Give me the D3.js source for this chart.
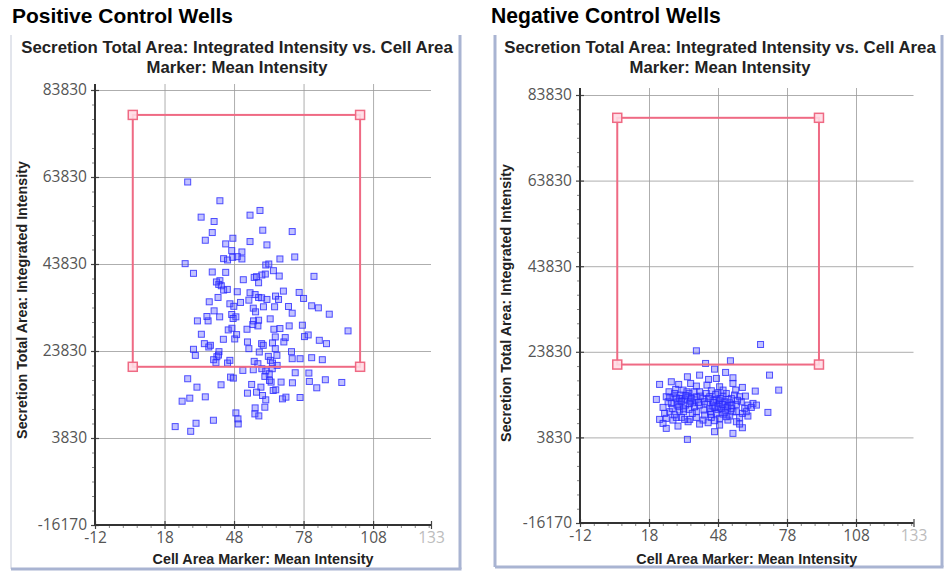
<!DOCTYPE html>
<html>
<head>
<meta charset="utf-8">
<script src="https://cdn.jsdelivr.net/npm/d3@7"></script>
<style>
  html, body { margin: 0; padding: 0; background: #fff; }
  svg { display: block; }
</style>
</head>
<body>
<svg id="chart" width="944" height="573"></svg>
<script>
// Axis tick values shared by both plots
const xTicks = [-12, 18, 48, 78, 108, 133];
const yTicks = [-16170, 3830, 23830, 43830, 63830, 83830];

// Gate rectangles: [xMin, xMax, yMin, yMax]
const positiveGate = [4.3, 102.4, 20200, 78100];
const negativeGate = [4.2, 91.9, 20850, 78500];

// Positive control wells: [cell area marker mean intensity, secretion integrated intensity]
const positivePoints = [
  [28.0,62680],[41.9,58370],[54.9,55060],[59.2,56140],[33.8,54600],[39.4,53600],[60.4,51600],[73.1,51290],
  [38.6,51060],[35.6,49290],[47.5,49750],[44.4,48450],[54.9,48990],[62.2,48220],[47.0,46910],[51.4,46600],
  [43.5,45060],[45.2,44750],[47.4,45370],[49.4,45520],[51.4,44990],[67.8,44990],[74.2,45450],[26.9,43910],
  [61.7,43600],[63.0,43830],[30.5,41680],[38.6,41990],[44.4,41910],[65.0,42290],[61.5,41520],[67.5,41060],
  [82.5,40990],[41.9,39990],[41.4,39140],[42.5,38830],[52.0,40220],[56.7,40750],[58.6,39520],[57.7,40910],
  [43.5,37830],[45.1,37990],[49.4,37450],[69.3,37600],[76.1,37290],[78.0,35910],[54.9,37220],[41.1,36140],
  [58.6,36140],[59.9,36060],[62.2,35680],[65.9,36450],[67.2,35680],[37.3,35140],[54.4,35520],[46.2,34680],
  [50.8,34990],[56.3,33680],[60.7,33990],[65.5,33990],[71.5,34060],[73.1,32520],[81.5,34220],[84.4,33750],
  [89.1,32290],[39.4,33060],[41.8,31680],[47.0,32220],[48.8,31680],[57.3,32830],[63.6,31220],[58.6,30910],
  [56.4,30750],[32.2,30750],[36.3,31760],[36.8,30750],[56.1,29910],[58.3,29600],[45.5,28680],[47.1,29060],
  [49.1,27600],[53.6,28830],[65.2,28830],[67.8,28990],[71.8,29600],[77.5,29760],[33.9,27680],[43.4,26520],
  [48.3,26600],[65.8,27060],[70.1,26910],[78.4,27140],[80.0,27520],[97.2,28450],[35.2,25520],[37.8,25140],
  [37.1,24750],[53.8,25910],[59.9,25520],[64.6,25680],[69.5,25910],[84.8,26290],[87.9,25520],[30.5,24220],
  [31.3,22830],[41.5,23680],[40.6,22520],[54.4,24370],[58.9,23600],[60.6,25140],[65.8,24370],[72.8,23680],
  [73.1,22060],[66.5,22830],[39.2,21830],[40.2,21140],[45.2,21060],[46.2,21680],[56.7,21450],[58.3,20910],
  [63.7,21680],[64.6,21060],[66.6,20520],[76.5,22060],[81.5,22290],[86.1,21830],[51.8,19370],[56.3,19520],
  [60.0,19760],[61.7,19220],[63.2,18600],[64.5,19760],[46.5,17830],[47.7,17600],[61.3,17990],[63.3,17060],
  [74.4,18830],[80.3,18760],[28.0,17450],[42.4,16060],[55.6,16140],[64.0,16680],[68.3,16680],[73.2,16520],
  [80.5,16830],[87.4,17220],[94.5,16600],[32.0,15520],[59.6,15520],[64.9,14750],[66.0,14910],[83.7,15370],
  [53.8,14140],[57.7,14370],[25.6,12290],[28.9,12990],[35.6,13290],[60.3,13600],[61.7,12600],[68.9,12830],
  [70.4,13220],[76.5,13140],[61.3,10910],[57.1,10750],[48.8,9600],[49.7,8220],[57.0,9370],[58.7,8910],
  [49.8,7060],[22.6,6450],[31.6,7220],[39.1,7910],[29.3,5370],
  [40.4,39700],[47.9,34100],[47.6,31300],[41.3,22900],[60.0,41300],[57.1,36800],[62.8,22600]
];

// Negative control wells
const negativePoints = [
  [38.6,24060],[66.5,25540],[42.6,21110],[53.4,21730],[46.5,19780],[51.3,19010],[34.7,17990],[40.0,18380],
  [43.9,17370],[47.3,17610],[54.5,17760],[70.4,18380],[22.6,16210],[27.7,16830],[30.9,16210],[36.1,16440],
  [38.6,15820],[43.2,16050],[48.7,15660],[54.5,16440],[58.6,15510],[64.2,14650],[74.4,14880],[26.7,14490],
  [29.6,15040],[32.8,14880],[35.4,14100],[40.0,14490],[45.1,14730],[48.0,14260],[51.6,14100],[55.7,14880],
  [59.9,13480],[21.2,12700],[25.5,13330],[28.7,13330],[32.1,12940],[35.0,13330],[38.6,13330],[41.5,12940],
  [44.4,13330],[47.3,12700],[50.2,13330],[53.8,12940],[57.4,13330],[63.2,11770],[61.0,11380],[24.1,10840],
  [27.7,11770],[30.6,12160],[33.9,11380],[37.1,11930],[40.0,11380],[43.2,11620],[45.8,11150],[48.7,11770],
  [52.3,11150],[56.0,11540],[59.6,10600],[69.7,9670],[27.0,9830],[31.3,10220],[35.4,10370],[38.6,9830],
  [41.9,10220],[44.8,9830],[48.0,10370],[51.3,10220],[54.5,9830],[58.6,9440],[22.6,8040],[25.5,8270],
  [28.4,7880],[32.1,8500],[35.7,8040],[38.6,8500],[41.5,7880],[45.1,8500],[48.7,8270],[52.3,7880],
  [57.4,8500],[61.0,8820],[24.1,7100],[30.6,6480],[35.0,7490],[40.0,6950],[46.5,7730],[56.0,7490],
  [25.5,5940],[46.5,5160],[54.5,4770],[58.6,6090],[48.7,6710],[34.7,3370],
  [29.2,14100],[31.8,13720],[33.5,12550],[36.4,12940],[37.8,10990],[30.2,11380],[28.1,10600],[33.1,9830],
  [36.8,9440],[34.5,14490],[45.8,12550],[48.7,12390],[50.9,12160],[53.1,11930],[46.5,10840],[49.4,10600],
  [53.8,10600],[44.4,10600],[47.3,9440],[50.2,9280],[53.1,8820],[56.0,9830],[58.1,12160],[52.3,12700],
  [42.2,12160],[40.3,13480],[37.6,14490],[31.3,12940],[26.3,12160],[24.8,9440],[60.3,9830],[62.5,10840],
  [64.7,11380],[55.2,13720],[42.9,14100],[50.2,14880],[42.2,9050],[29.9,8500],[33.5,8040],[43.7,7260],
  [57.4,6950],[51.6,8660],
  [30.0,13000],[32.0,12200],[34.0,13600],[36.0,12300],[38.0,12600],[31.0,11000],[33.0,10500],[35.5,11700],
  [46.0,12000],[48.0,11100],[50.0,11500],[52.0,10900],[54.0,11300],[56.5,12500],[49.0,12900],[47.0,13900],
  [44.0,12900],[45.0,9200],[51.0,9700],[39.5,12000],[29.0,9100],[27.0,13100]
];

const chartTitle = ["Secretion Total Area: Integrated Intensity vs. Cell Area", "Marker: Mean Intensity"];
const xTitle = "Cell Area Marker: Mean Intensity";
const yTitle = "Secretion Total Area: Integrated Intensity";

const svg = d3.select("#chart");

const panels = [
  { heading: "Positive Control Wells", hx: 12, hw: 221, points: positivePoints, gate: positiveGate,
    frame: { x0: 11, x1: 460, y0: 35, y1: 569, leftW: 1 },
    px0: 95, px1: 431, py0: 525, py1: 90, top: 84, cx: 237, yTitleX: 27, yTitleY: 300 },
  { heading: "Negative Control Wells", hx: 491, hw: 230, points: negativePoints, gate: negativeGate,
    frame: { x0: 495, x1: 942, y0: 35, y1: 567, leftW: 3 },
    px0: 580, px1: 913.5, py0: 523, py1: 95, top: 88, cx: 720, yTitleX: 511, yTitleY: 303 }
];

// Set a text element's font size so its rendered width equals the given width
function fitWidth(sel, width) {
  const node = sel.node();
  const fs = parseFloat(sel.attr("font-size"));
  const w = node.getComputedTextLength();
  if (w > 0) sel.attr("font-size", (fs * width / w).toFixed(2));
  return sel;
}

const frameColor = "#a9b4d2";
const gateColor = "#ef6a84";
const plain = d => String(d);

panels.forEach(p => {
  const g = svg.append("g");

  // Panel heading
  const h = g.append("text")
    .attr("x", p.hx).attr("y", 23)
    .attr("font-family", "Liberation Sans, Arial, sans-serif")
    .attr("font-weight", "bold").attr("font-size", 18)
    .attr("fill", "#000")
    .text(p.heading);
  fitWidth(h, p.hw);

  // Panel frame (left, right and bottom edges)
  const f = p.frame;
  g.append("line").attr("x1", f.x0).attr("x2", f.x0).attr("y1", f.y0).attr("y2", f.y1)
    .attr("stroke", f.leftW > 1 ? frameColor : "#c6cbd9").attr("stroke-width", f.leftW);
  g.append("line").attr("x1", f.x1).attr("x2", f.x1).attr("y1", f.y0).attr("y2", f.y1)
    .attr("stroke", frameColor).attr("stroke-width", 3);
  g.append("line").attr("x1", f.x0).attr("x2", f.x1 + 1.5).attr("y1", f.y1).attr("y2", f.y1)
    .attr("stroke", frameColor).attr("stroke-width", 3);

  // Chart title
  chartTitle.forEach((t, i) => {
    const tt = g.append("text")
      .attr("x", p.cx).attr("y", i === 0 ? 53 : 73)
      .attr("text-anchor", "middle")
      .attr("font-family", "Liberation Sans, Arial, sans-serif")
      .attr("font-weight", "bold").attr("font-size", 14)
      .attr("fill", "#222")
      .text(t);
    if (i === 0) fitWidth(tt, 432);
    else fitWidth(tt, 181);
  });

  const x = d3.scaleLinear().domain([xTicks[0], xTicks[xTicks.length - 1]]).range([p.px0, p.px1]);
  const y = d3.scaleLinear().domain([yTicks[0], yTicks[yTicks.length - 1]]).range([p.py0, p.py1]);

  // Grid lines
  const gridY = g.append("g").attr("transform", `translate(${p.px0},0)`)
    .call(d3.axisLeft(y).tickValues(yTicks.slice(1)).tickSize(-(p.px1 - p.px0)).tickFormat(""));
  const gridX = g.append("g").attr("transform", `translate(0,${p.py0})`)
    .call(d3.axisBottom(x).tickValues(xTicks.slice(1, -1)).tickSize(-(p.py0 - p.top)).tickFormat(""));
  [gridY, gridX].forEach(gr => {
    gr.select(".domain").remove();
    gr.selectAll("line").attr("stroke", "#9a9a9a").attr("stroke-width", 1).attr("stroke-opacity", 0.8);
  });

  // Minor ticks
  const yMinor = d3.range(yTicks[0], yTicks[yTicks.length - 1], (yTicks[1] - yTicks[0]) / 6)
    .filter(v => !yTicks.includes(v));
  const xMinor = d3.range(xTicks[0] + 6, xTicks[xTicks.length - 1], 6).filter(v => !xTicks.includes(v));
  const minY = g.append("g").attr("transform", `translate(${p.px0},0)`)
    .call(d3.axisLeft(y).tickValues(yMinor).tickSize(3).tickFormat(""));
  const minX = g.append("g").attr("transform", `translate(0,${p.py0})`)
    .call(d3.axisBottom(x).tickValues(xMinor).tickSize(3).tickFormat(""));
  [minY, minX].forEach(a => {
    a.select(".domain").remove();
    a.selectAll("line").attr("stroke", "#888").attr("stroke-width", 1);
  });

  // Major y axis with crossing ticks
  const ay = g.append("g").attr("transform", `translate(${p.px0},0)`)
    .call(d3.axisLeft(y).tickValues(yTicks).tickSize(4).tickPadding(4).tickFormat(plain));
  ay.select(".domain").remove();
  ay.selectAll(".tick line").attr("x2", -4).attr("x1", 4).attr("stroke", "#444").attr("stroke-width", 1.2);
  ay.selectAll(".tick text")
    .attr("font-family", "Open Sans, Liberation Sans, sans-serif")
    .attr("font-size", 15.5).attr("fill", "#555");

  // Major x axis with crossing ticks
  const ax = g.append("g").attr("transform", `translate(0,${p.py0})`)
    .call(d3.axisBottom(x).tickValues(xTicks).tickSize(4).tickPadding(3).tickFormat(plain));
  ax.select(".domain").remove();
  ax.selectAll(".tick line").attr("y1", -4).attr("y2", 4).attr("stroke", "#444").attr("stroke-width", 1.2);
  ax.selectAll(".tick text")
    .attr("font-family", "Open Sans, Liberation Sans, sans-serif")
    .attr("font-size", 15.5)
    .attr("fill", (d, i) => i === xTicks.length - 1 ? "#bcbcbc" : "#555");

  // Axis lines
  g.append("line").attr("x1", p.px0).attr("x2", p.px0).attr("y1", p.top).attr("y2", p.py0 + 1)
    .attr("stroke", "#333").attr("stroke-width", 2);
  g.append("line").attr("x1", p.px0 - 1).attr("x2", p.px1).attr("y1", p.py0).attr("y2", p.py0)
    .attr("stroke", "#333").attr("stroke-width", 2);

  // Axis titles
  const xt = g.append("text")
    .attr("x", (p.px0 + p.px1) / 2).attr("y", 564)
    .attr("text-anchor", "middle")
    .attr("font-family", "Liberation Sans, Arial, sans-serif")
    .attr("font-weight", "bold").attr("font-size", 13)
    .attr("fill", "#222").text(xTitle);
  fitWidth(xt, 221);
  const yt = g.append("text")
    .attr("transform", `translate(${p.yTitleX},${p.yTitleY}) rotate(-90)`)
    .attr("text-anchor", "middle")
    .attr("font-family", "Liberation Sans, Arial, sans-serif")
    .attr("font-weight", "bold").attr("font-size", 12)
    .attr("fill", "#222").text(yTitle);
  fitWidth(yt, 278);

  // Data points
  g.append("g").selectAll("rect").data(p.points).join("rect")
    .attr("x", d => x(d[0]) - 3).attr("y", d => y(d[1]) - 3)
    .attr("width", 6).attr("height", 6)
    .attr("fill", "rgba(80,80,255,0.35)")
    .attr("stroke", "rgba(40,40,255,0.8)").attr("stroke-width", 1);

  // Gate
  const [gx0, gx1, gy0, gy1] = p.gate;
  g.append("rect")
    .attr("x", x(gx0)).attr("y", y(gy1))
    .attr("width", x(gx1) - x(gx0)).attr("height", y(gy0) - y(gy1))
    .attr("fill", "none").attr("stroke", gateColor).attr("stroke-width", 2);
  const corners = [[gx0, gy0], [gx0, gy1], [gx1, gy0], [gx1, gy1]];
  g.append("g").selectAll("rect").data(corners).join("rect")
    .attr("x", d => x(d[0]) - 4.5).attr("y", d => y(d[1]) - 4.5)
    .attr("width", 9).attr("height", 9)
    .attr("fill", "rgba(255,220,228,0.9)")
    .attr("stroke", gateColor).attr("stroke-width", 1.5);
});
</script>
</body>
</html>
